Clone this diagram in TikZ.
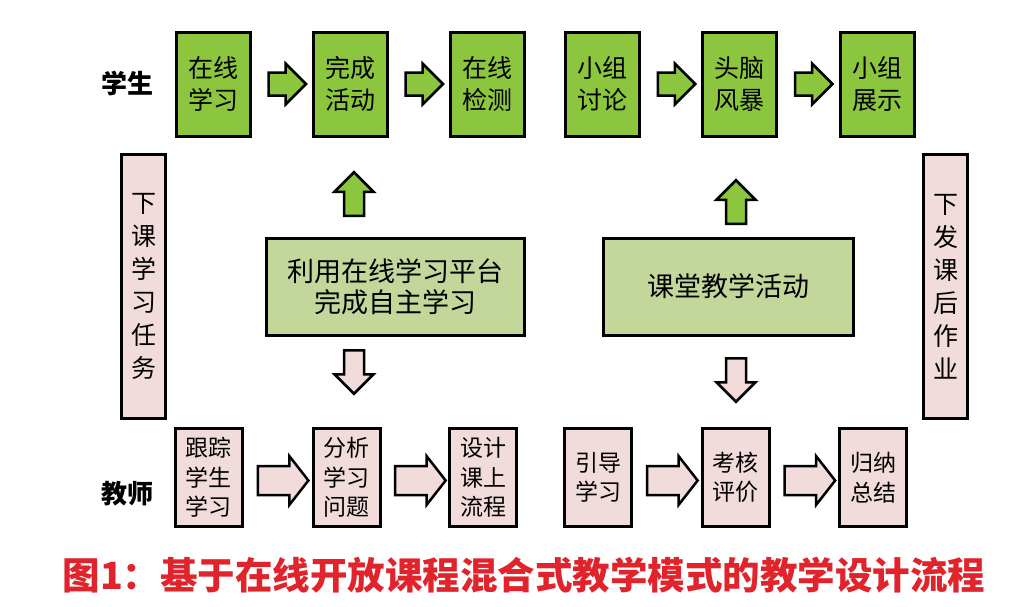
\documentclass[tikz,border=0pt]{standalone}
\usepackage{fontspec}
\setmainfont{Noto Sans CJK SC}
\usetikzlibrary{shapes.arrows,calc}
\definecolor{stugreen}{HTML}{8CC63F}
\definecolor{midgreen}{HTML}{C4D79B}
\definecolor{tchpink}{HTML}{F2DCDB}
\definecolor{captred}{HTML}{E1232B}
\tikzset{
  box/.style={draw=black,line width=3pt,inner sep=0pt,align=center},
  stubox/.style={box,fill=stugreen,minimum width=74pt,minimum height=104pt,font=\fontsize{25}{32}\selectfont},
  tchbox/.style={box,fill=tchpink,minimum width=67pt,minimum height=98pt,font=\fontsize{23}{29.5}\selectfont},
  taskbox/.style={box,fill=tchpink,minimum width=44pt,minimum height=264pt,font=\fontsize{25}{33}\selectfont},
  actbox/.style={box,fill=midgreen,minimum height=97pt,font=\fontsize{27}{31}\selectfont},
  blockarrow/.style={single arrow,draw=black,line width=2.5pt,inner xsep=0pt,minimum width=0pt},
  toparrow/.style={blockarrow,fill=stugreen,minimum height=37.5pt,inner ysep=10.25pt,single arrow head extend=9pt},
  lowarrow/.style={blockarrow,fill=tchpink,minimum height=50.5pt,inner ysep=13.25pt,single arrow head extend=10pt,single arrow tip angle=104},
  uparrow/.style={blockarrow,fill=stugreen,minimum height=43.5pt,inner ysep=8.75pt,single arrow head extend=9.5pt,rotate=90},
  downarrow/.style={blockarrow,fill=tchpink,minimum height=43.5pt,inner ysep=8.75pt,single arrow head extend=9.5pt,rotate=-90},
  role/.style={font=\fontsize{26}{26}\selectfont\bfseries}
}
\begin{document}
\begin{tikzpicture}[x=1pt,y=-1pt]
\useasboundingbox (0,0) rectangle (1031,606);
% student row
\node[role] (stu) at (127,83) {学生};
\node[stubox] (zxxx) at (213,84) {在线\\学习};
\node[stubox] (wchd) at (350,84) {完成\\活动};
\node[stubox] (zxjc) at (487,84) {在线\\检测};
\node[stubox] (xztl) at (602.5,84) {小组\\讨论};
\node[stubox] (tnfb) at (739,84) {头脑\\风暴};
\node[stubox] (xzzs) at (877,84) {小组\\展示};
\node[toparrow] at ($(zxxx.east)!.5!(wchd.west)$) {};
\node[toparrow] at ($(wchd.east)!.5!(zxjc.west)$) {};
\node[toparrow] at ($(xztl.east)!.5!(tnfb.west)$) {};
\node[toparrow] at ($(tnfb.east)!.5!(xzzs.west)$) {};
% side tasks
\node[taskbox] (xkrw) at (143.5,286.5) {下\\课\\学\\习\\任\\务};
\node[taskbox] (xfzy) at (945.5,286.5) {下\\发\\课\\后\\作\\业};
% activities
\node[actbox,minimum width=258pt] (zzxx) at (395.5,287) {利用在线学习平台\\完成自主学习};
\node[actbox,minimum width=250pt] (ktjx) at (728.5,286.5) {课堂教学活动};
\node[uparrow] at (354,199) {};
\node[downarrow] at (354,367) {};
\node[uparrow] at (736,207) {};
\node[downarrow] at (736,375) {};
% teacher row
\node[role] (tch) at (127,494) {教师};
\node[tchbox] (gzxs) at (208.5,477.5) {跟踪\\学生\\学习};
\node[tchbox] (fxwt) at (346.5,477.5) {分析\\学习\\问题};
\node[tchbox] (sjlc) at (483,477.5) {设计\\课上\\流程};
\node[tchbox] (ydxx) at (598,477.5) {引导\\学习};
\node[tchbox] (khpj) at (735.5,477.5) {考核\\评价};
\node[tchbox] (gnzj) at (873,477.5) {归纳\\总结};
\node[lowarrow] at ($(gzxs.east)!.5!(fxwt.west)+(0,3)$) {};
\node[lowarrow] at ($(fxwt.east)!.5!(sjlc.west)+(0,3)$) {};
\node[lowarrow] at ($(ydxx.east)!.5!(khpj.west)+(0,3)$) {};
\node[lowarrow] at ($(khpj.east)!.5!(gnzj.west)+(0,3)$) {};
% caption
\node[text=captred,font=\fontsize{37.5}{37.5}\selectfont\bfseries] (cap) at (524,575) {图1：基于在线开放课程混合式教学模式的教学设计流程};
\end{tikzpicture}
\end{document}
